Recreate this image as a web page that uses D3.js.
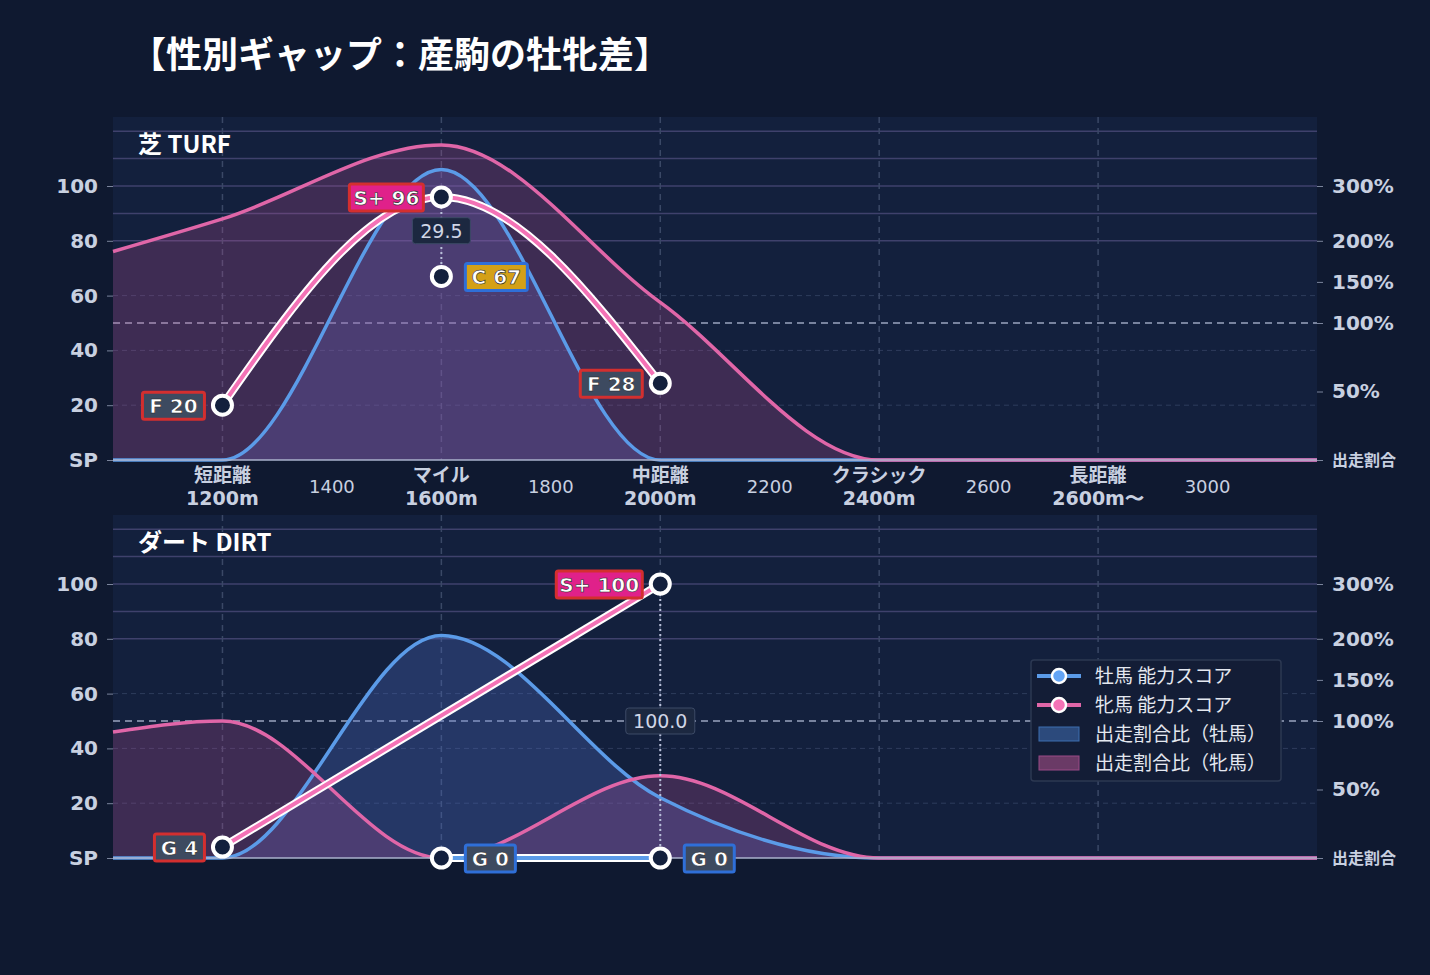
<!DOCTYPE html>
<html><head><meta charset="utf-8">
<script src="https://cdn.jsdelivr.net/npm/d3@7"></script>
<style>body{margin:0;background:#0f1930;font-family:"Noto Sans CJK JP","Noto Sans",sans-serif}</style>
</head><body><svg id="chart" width="1430" height="975"></svg>
<script>
// distance grid
const distances = [1000, 1200, 1600, 2000, 2400, 2800, 3200];
const tickValues = [1200, 1400, 1600, 1800, 2000, 2200, 2400, 2600, 2800, 3000];
const tickLabels = ["短距離\n1200m", "1400", "マイル\n1600m", "1800", "中距離\n2000m", "2200", "クラシック\n2400m", "2600", "長距離\n2600m〜", "3000"];
const scoreTicks = [0, 20, 40, 60, 80, 100];
const ratioTicks = [0, 50, 100, 150, 200, 300];

// 出走割合 (%) per distance point
const turfMaleRatio = [0, 0, 330, 0, 0, 0, 0];
const turfFemaleRatio = [187, 240, 375, 125, 0, 0, 0];
const dirtMaleRatio = [0, 0, 206, 44, 0, 0, 0];
const dirtFemaleRatio = [92, 100, 0, 60, 0, 0, 0];

// ability scores
const turfMaleScore = [{d: 1600, v: 67, g: "C"}];
const turfFemaleScore = [{d: 1200, v: 20, g: "F"}, {d: 1600, v: 96, g: "S+"}, {d: 2000, v: 28, g: "F"}];
const dirtMaleScore = [{d: 1600, v: 0, g: "G"}, {d: 2000, v: 0, g: "G"}];
const dirtFemaleScore = [{d: 1200, v: 4, g: "G"}, {d: 2000, v: 100, g: "S+"}];
const turfGap = {d: 1600, text: "29.5"};
const dirtGap = {d: 2000, text: "100.0"};

const gradeStyle = {
    "S+": {fill: "#e0218a", border: "#d32f2f"},
    "C": {fill: "#d4a017", border: "#2f6fd8"},
    "F": {fill: "#3d4a60", border: "#d32f2f"},
    "G": {fill: "#3d4a60", border: "#d32f2f"}
};

const svg = d3.select("#chart");
svg.append("text").attr("x", 130).attr("y", 68).attr("fill", "#fff")
    .attr("font-size", 36).attr("font-weight", "bold").text("【性別ギャップ：産駒の牡牝差】");

const x = d3.scaleLinear().domain([1000, 3200]).range([113, 1317]);
// score -> ratio mapping on the right axis
const ratioToScore = d3.scaleLinear().domain([0, 50, 100, 150, 200, 300]).range([0, 25, 50, 65, 80, 100]);

function drawPanel(top, title, maleRatio, femaleRatio, maleScore, femaleScore, gap, labels, maleSide) {
    const y = d3.scaleLinear().domain([0, 100]).range([top + 343, top + 69]);
    const g = svg.append("g");
    g.append("rect").attr("x", 113).attr("y", top).attr("width", 1204).attr("height", 343).attr("fill", "#13203d");

    [80, 90, 100, 110, 120].forEach(v => g.append("line").attr("x1", 113).attr("x2", 1317)
        .attr("y1", y(v)).attr("y2", y(v)).attr("stroke", "#4a4a78").attr("stroke-width", 1.5).attr("opacity", 0.8));
    [20, 40, 60].forEach(v => g.append("line").attr("x1", 113).attr("x2", 1317)
        .attr("y1", y(v)).attr("y2", y(v)).attr("stroke", "#2e3c5c").attr("stroke-dasharray", "5,4"));
    [1200, 1600, 2000, 2400, 2800].forEach(d => g.append("line").attr("x1", x(d)).attr("x2", x(d))
        .attr("y1", top).attr("y2", top + 343).attr("stroke", "#3a4866").attr("stroke-width", 1.5).attr("stroke-dasharray", "6,5"));
    g.append("line").attr("x1", 113).attr("x2", 1317).attr("y1", y(50)).attr("y2", y(50))
        .attr("stroke", "#9aa4be").attr("stroke-width", 1.5).attr("stroke-dasharray", "7,5");

    const area = d3.area().x((d, i) => x(distances[i])).y0(y(0)).y1(d => y(ratioToScore(d))).curve(d3.curveMonotoneX);
    const line = d3.line().x((d, i) => x(distances[i])).y(d => y(ratioToScore(d))).curve(d3.curveMonotoneX);
    g.append("path").attr("d", area(maleRatio)).attr("fill", "rgba(80,110,200,0.30)");
    g.append("path").attr("d", area(femaleRatio)).attr("fill", "rgba(190,80,150,0.25)");
    g.append("path").attr("d", line(maleRatio)).attr("fill", "none").attr("stroke", "#5b9be8").attr("stroke-width", 3.5);
    g.append("path").attr("d", line(femaleRatio)).attr("fill", "none").attr("stroke", "#e066a8").attr("stroke-width", 3.5);

    g.append("text").attr("x", 138).attr("y", top + 36).attr("fill", "#fff").attr("font-size", 24)
        .attr("font-weight", "bold").text(title);

    // axes
    const la = g.append("g").attr("transform", "translate(113,0)")
        .call(d3.axisLeft(y).tickValues(scoreTicks).tickSize(6).tickFormat(d => d === 0 ? "SP" : d));
    const ra = g.append("g").attr("transform", "translate(1317,0)")
        .call(d3.axisRight(y).tickValues(ratioTicks.map(ratioToScore)).tickSize(6)
            .tickFormat((d, i) => i === 0 ? "出走割合" : ratioTicks[i] + "%"));
    [la, ra].forEach(a => {
        a.select(".domain").remove();
        a.selectAll("line").attr("stroke", "#7a849c");
        a.selectAll("text").attr("fill", "#c8d0e0").attr("font-size", 20).attr("font-weight", "bold")
            .attr("font-family", "DejaVu Sans");
    });
    la.selectAll("text").attr("dx", -6);
    ra.selectAll("text").attr("dx", 6).filter((d, i) => i === 0).attr("font-size", 16)
        .attr("font-family", "Noto Sans CJK JP");
    g.append("line").attr("x1", 113).attr("x2", 1317).attr("y1", y(0)).attr("y2", y(0)).attr("stroke", "#aab2cc").attr("stroke-width", 1.5);

    if (labels) {
        const xa = g.append("g").attr("transform", `translate(0,${y(0)})`)
            .call(d3.axisBottom(x).tickValues(tickValues).tickSize(0).tickFormat(""));
        xa.select(".domain").remove();
        tickValues.forEach((d, i) => {
            const parts = tickLabels[i].split("\n");
            const t = g.append("text").attr("x", x(d)).attr("text-anchor", "middle").attr("fill", "#c8d0e0");
            if (parts.length === 1) {
                t.attr("y", y(0) + 33).attr("font-size", 18).attr("font-family", "DejaVu Sans").text(parts[0]);
            } else {
                t.attr("font-weight", "bold").attr("font-size", 19);
                t.append("tspan").attr("x", x(d)).attr("y", y(0) + 22).text(parts[0]);
                t.append("tspan").attr("x", x(d)).attr("y", y(0) + 45).attr("font-family", "DejaVu Sans").text(parts[1]);
            }
        });
    }

    // gap marker
    const mg = maleScore.find(p => p.d === gap.d), fg = femaleScore.find(p => p.d === gap.d);
    g.append("line").attr("x1", x(gap.d)).attr("x2", x(gap.d)).attr("y1", y(fg.v)).attr("y2", y(mg.v))
        .attr("stroke", "#b8bfd8").attr("stroke-width", 2).attr("stroke-dasharray", "2,3");

    // score lines
    const sline = d3.line().x(d => x(d.d)).y(d => y(d.v)).curve(d3.curveMonotoneX);
    [[maleScore, "#5b9be8"], [femaleScore, "#f472b6"]].forEach(([s, c]) => {
        if (s.length < 2) return;
        g.append("path").attr("d", sline(s)).attr("fill", "none").attr("stroke", "#fff").attr("stroke-width", 8);
        g.append("path").attr("d", sline(s)).attr("fill", "none").attr("stroke", c).attr("stroke-width", 4);
    });

    const gy = (y(fg.v) + y(mg.v)) / 2 + (gap.text === "29.5" ? -6 : 0);
    const gw = gap.text.length * 11 + 14;
    g.append("rect").attr("x", x(gap.d) - gw / 2).attr("y", gy - 13).attr("width", gw).attr("height", 26)
        .attr("rx", 3).attr("fill", "#1c2840").attr("stroke", "#3c4a66");
    g.append("text").attr("x", x(gap.d)).attr("y", gy + 7).attr("text-anchor", "middle").attr("fill", "#d0d6e6")
        .attr("font-size", 19).attr("font-family", "DejaVu Sans").text(gap.text);

    // points + badges
    function badge(p, side, border) {
        const st = gradeStyle[p.g];
        const txt = p.g + " " + p.v;
        const w = txt.length * 12 + 14;
        const bx = side === "left" ? x(p.d) - 18 - w : x(p.d) + 24;
        g.append("rect").attr("x", bx).attr("y", y(p.v) - 13).attr("width", w).attr("height", 27).attr("rx", 2)
            .attr("fill", st.fill).attr("stroke", border || st.border).attr("stroke-width", 3);
        g.append("text").attr("x", bx + w / 2).attr("y", y(p.v) + 8).attr("text-anchor", "middle")
            .attr("fill", "#fff").attr("font-size", 20).attr("font-weight", "bold").attr("font-family", "DejaVu Sans")
            .attr("stroke", "#222").attr("stroke-width", 0.6).text(txt);
    }
    maleScore.concat(femaleScore).forEach(p => {
        g.append("circle").attr("cx", x(p.d)).attr("cy", y(p.v)).attr("r", 9.5)
            .attr("fill", "#13203d").attr("stroke", "#fff").attr("stroke-width", 4);
    });
    femaleScore.forEach(p => badge(p, "left"));
    maleScore.forEach(p => badge(p, maleSide, p.g === "G" ? "#2f6fd8" : null));
    return y;
}

drawPanel(117, "芝 TURF", turfMaleRatio, turfFemaleRatio, turfMaleScore, turfFemaleScore, turfGap, true, "right");
drawPanel(515, "ダート DIRT", dirtMaleRatio, dirtFemaleRatio, dirtMaleScore, dirtFemaleScore, dirtGap, false, "right");

// legend
const lg = svg.append("g").attr("transform", "translate(1031,660)");
lg.append("rect").attr("width", 250).attr("height", 121).attr("rx", 3).attr("fill", "#131d36").attr("stroke", "#2c3852").attr("stroke-width", 1.5);
const legendItems = [
    {t: "牡馬 能力スコア", type: "line", c: "#5b9be8", f: "#63a4f5"},
    {t: "牝馬 能力スコア", type: "line", c: "#e066a8", f: "#f472b6"},
    {t: "出走割合比（牡馬）", type: "box", c: "#3d6fb0", f: "#2c4a7c"},
    {t: "出走割合比（牝馬）", type: "box", c: "#9a4a86", f: "#6a3a66"}
];
legendItems.forEach((it, i) => {
    const yy = 16 + i * 29;
    if (it.type === "line") {
        lg.append("line").attr("x1", 6).attr("x2", 50).attr("y1", yy).attr("y2", yy).attr("stroke", it.c).attr("stroke-width", 4);
        lg.append("circle").attr("cx", 28).attr("cy", yy).attr("r", 7).attr("fill", it.f).attr("stroke", "#fff").attr("stroke-width", 2.5);
    } else {
        lg.append("rect").attr("x", 8).attr("y", yy - 7).attr("width", 40).attr("height", 14).attr("fill", it.f).attr("stroke", it.c);
    }
    lg.append("text").attr("x", 64).attr("y", yy + 7).attr("fill", "#e4e8f0").attr("font-size", 19).text(it.t);
});
</script></body></html>
